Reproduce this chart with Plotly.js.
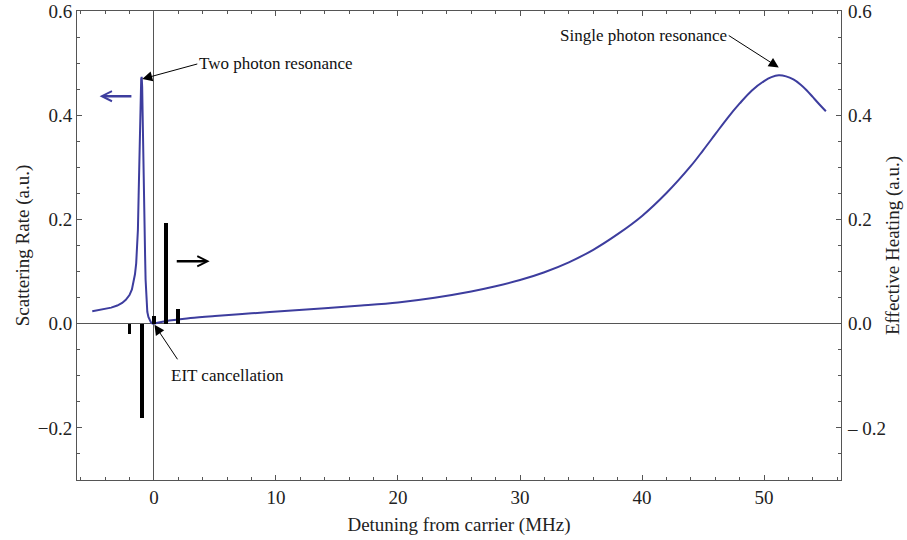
<!DOCTYPE html>
<html><head><meta charset="utf-8">
<script src="https://cdn.plot.ly/plotly-3.0.1.min.js"></script>
<style>html,body{margin:0;padding:0;background:#fff}</style>
</head><body><div id="chart" style="width:907px;height:540px"></div>
<script>
// Scattering rate: narrow two-photon peak region (x <= 0)
const peakX = [-5.05, -4.5, -4.0, -3.5, -3.0, -2.6, -2.3, -2.0, -1.8, -1.65, -1.55, -1.45, -1.38, -1.31, -1.25, -1.2, -1.145, -1.09, -1.04, -1.0, -0.96, -0.92, -0.87, -0.82, -0.76, -0.72, -0.68, -0.62, -0.54, -0.45, -0.35, -0.25, -0.12, 0];
const peakY = [0.024, 0.026, 0.028, 0.031, 0.035, 0.040, 0.046, 0.055, 0.066, 0.080, 0.095, 0.116, 0.140, 0.180, 0.246, 0.31, 0.374, 0.440, 0.470, 0.474, 0.455, 0.400, 0.310, 0.246, 0.182, 0.130, 0.085, 0.045, 0.023, 0.013, 0.007, 0.003, 0.0005, 0.0];
// Scattering rate: broad single-photon region (x >= 0)
const tailX = [0, 0.5, 1, 2, 3, 5, 8, 11, 14, 17, 20, 23, 26, 28, 30, 32, 34, 36, 38, 40, 42, 44, 45, 46, 47, 48, 49, 50, 50.6, 51.2, 51.8, 52.4, 53, 53.5, 54, 54.5, 55.06];
const tailY = [0.0, 0.003, 0.005, 0.008, 0.011, 0.015, 0.020, 0.025, 0.030, 0.035, 0.041, 0.050, 0.062, 0.072, 0.084, 0.099, 0.118, 0.142, 0.172, 0.207, 0.251, 0.303, 0.333, 0.364, 0.395, 0.423, 0.448, 0.466, 0.4735, 0.477, 0.475, 0.469, 0.459, 0.448, 0.435, 0.422, 0.408];
// Effective heating bars
const heatX = [-2, -1, 0, 1, 2];
const heatY = [-0.0205, -0.180, 0.0147, 0.194, 0.029];
// Tick labels
const xTickVals = [0, 10, 20, 30, 40, 50];
const xTickText = ['0', '10', '20', '30', '40', '50'];
const yTickVals = [-0.2, 0, 0.2, 0.4, 0.6];
const yLeftText = ['\u22120.2', '0.0', '0.2', '0.4', '0.6'];
const yRightText = ['\u2013 0.2', '0.0', '0.2', '0.4', '0.6'];

const blue = '#3d3d9e';
const frame = '#555555';
const font = '"Liberation Serif", "Times New Roman", serif';

const traces = [
  {x: peakX, y: peakY, type: 'scatter', mode: 'lines', line: {color: blue, width: 2}, hoverinfo: 'skip'},
  {x: tailX, y: tailY, type: 'scatter', mode: 'lines', line: {color: blue, width: 2, shape: 'spline', smoothing: 1}, hoverinfo: 'skip'},
  {x: heatX, y: heatY, type: 'bar', yaxis: 'y2', width: 0.3, marker: {color: '#000', line: {width: 0}}, hoverinfo: 'skip'}
];

const minorY = {tickmode: 'linear', tick0: 0, dtick: 0.05, ticks: 'inside', ticklen: 3, tickcolor: frame};
const layout = {
  width: 907, height: 540,
  margin: {l: 77, r: 66, t: 11, b: 60},
  paper_bgcolor: '#fff', plot_bgcolor: '#fff',
  showlegend: false,
  font: {family: font, size: 19, color: '#222'},
  xaxis: {
    range: [-6.3, 56.3], showgrid: false,
    tickmode: 'array', tickvals: xTickVals, ticktext: xTickText,
    ticks: 'inside', ticklen: 5, tickcolor: frame, tickwidth: 1,
    minor: {tickmode: 'linear', tick0: 0, dtick: 2, ticks: 'inside', ticklen: 3, tickcolor: frame},
    showline: true, linecolor: frame, linewidth: 1, mirror: 'ticks',
    zeroline: true, zerolinecolor: frame, zerolinewidth: 1,
    ticklabelstandoff: 0,
    title: {text: 'Detuning from carrier (MHz)', font: {family: font, size: 19, color: '#222'}, standoff: 10}
  },
  yaxis: {
    range: [-0.3, 0.6005], showgrid: false,
    tickmode: 'array', tickvals: yTickVals, ticktext: yLeftText,
    ticks: 'inside', ticklen: 5, tickcolor: frame, tickwidth: 1,
    minor: minorY, ticklabeloverflow: 'allow',
    showline: true, linecolor: frame, linewidth: 1, mirror: 'ticks',
    zeroline: true, zerolinecolor: frame, zerolinewidth: 1,
    title: {text: 'Scattering Rate (a.u.)', font: {family: font, size: 19, color: '#222'}, standoff: 3}
  },
  yaxis2: {
    range: [-0.3, 0.6005], overlaying: 'y', side: 'right', showgrid: false,
    tickmode: 'array', tickvals: yTickVals, ticktext: yRightText,
    ticks: 'inside', ticklen: 5, tickcolor: frame, tickwidth: 1,
    minor: minorY, ticklabeloverflow: 'allow',
    showline: false, zeroline: false,
    ticklabelstandoff: 6,
    title: {text: 'Effective Heating (a.u.)', font: {family: font, size: 19, color: '#222'}, standoff: 0}
  },
  bargap: 0,
  annotations: [
    {x: -0.95, y: 0.47, xref: 'x', yref: 'y', ax: 55, ay: -15, text: 'Two photon resonance', xanchor: 'left',
     showarrow: true, arrowhead: 2, arrowsize: 2, arrowwidth: 1, arrowcolor: '#000', standoff: 0,
     font: {family: font, size: 17, color: '#111'}},
    {x: 51.2, y: 0.492, xref: 'x', yref: 'y', ax: -50, ay: -32, text: 'Single photon resonance', xanchor: 'right',
     showarrow: true, arrowhead: 2, arrowsize: 2, arrowwidth: 1, arrowcolor: '#000', standoff: 0,
     font: {family: font, size: 17, color: '#111'}},
    {x: 0.05, y: -0.002, xref: 'x', yref: 'y', ax: 24, ay: 36, text: '',
     showarrow: true, arrowhead: 2, arrowsize: 2, arrowwidth: 1, arrowcolor: '#000', standoff: 0},
    {x: 6.0, y: -0.0995, xref: 'x', yref: 'y', text: 'EIT cancellation', showarrow: false,
     font: {family: font, size: 17, color: '#111'}},
    {x: -4.45, y: 0.437, xref: 'x', yref: 'y', ax: -1.72, ay: 0.437, axref: 'x', ayref: 'y', text: '',
     showarrow: true, arrowhead: 5, arrowsize: 0.8, arrowwidth: 2.5, arrowcolor: blue, standoff: 0},
    {x: 4.57, y: 0.12, xref: 'x', yref: 'y', ax: 1.75, ay: 0.12, axref: 'x', ayref: 'y', text: '',
     showarrow: true, arrowhead: 5, arrowsize: 0.8, arrowwidth: 2.5, arrowcolor: '#000', standoff: 0}
  ]
};

Plotly.newPlot('chart', traces, layout, {displayModeBar: false, staticPlot: true});
</script>
</body></html>
